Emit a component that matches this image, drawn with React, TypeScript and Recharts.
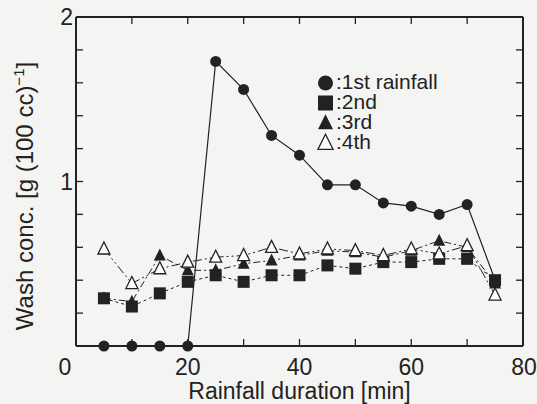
import { LineChart, Line, XAxis, YAxis, Legend, Label } from "recharts";

// rainfall duration [min]
const durations = [5, 10, 15, 20, 25, 30, 35, 40, 45, 50, 55, 60, 65, 70, 75];

// wash concentration [g (100 cc)^-1]
const firstRain = [0, 0, 0, 0, 1.73, 1.56, 1.28, 1.16, 0.98, 0.98, 0.87, 0.85, 0.8, 0.86, 0.4];
const secondRain = [0.29, 0.24, 0.32, 0.39, 0.43, 0.39, 0.43, 0.43, 0.49, 0.47, 0.51, 0.51, 0.53, 0.53, 0.4];
const thirdRain = [0.29, 0.27, 0.55, 0.46, 0.46, 0.5, 0.52, 0.55, 0.58, 0.57, 0.54, 0.58, 0.64, 0.6, 0.38];
const fourthRain = [0.59, 0.38, 0.47, 0.51, 0.54, 0.55, 0.6, 0.56, 0.59, 0.58, 0.55, 0.59, 0.56, 0.61, 0.31];

const seriesLabels = ["1st rainfall", "2nd", "3rd", "4th"];

const xLabelTicks = [0, 20, 40, 60, 80];
const xMinorTicks = [10, 20, 30, 40, 50, 60, 70];
const yLabelTicks = [1, 2];
const yMinorTicks = [0.2, 0.4, 0.6, 0.8, 1.0, 1.2, 1.4, 1.6, 1.8];

const INK = "#222";
const BG = "#f4f4f2";
const FONT = '"Liberation Sans", Arial, Helvetica, sans-serif';

const chartData = durations.map((t, i) => ({
  t,
  first: firstRain[i],
  second: secondRain[i],
  third: thirdRain[i],
  fourth: fourthRain[i],
}));

function marker(kind: string, cx: number, cy: number, s: number) {
  if (kind === "circle") return <circle cx={cx} cy={cy} r={s / 2} fill={INK} />;
  if (kind === "square")
    return <rect x={cx - s / 2} y={cy - s / 2} width={s} height={s} fill={INK} />;
  const pts = `${cx},${cy - s * 0.58} ${cx - s / 2},${cy + s * 0.42} ${cx + s / 2},${cy + s * 0.42}`;
  if (kind === "triangle") return <polygon points={pts} fill={INK} />;
  return <polygon points={pts} fill="#fff" stroke={INK} strokeWidth={1.3} />;
}

const makeDot = (kind: string, size: number) => (props: any) => {
  const { cx, cy, index } = props;
  if (cx == null || cy == null) return <g key={`${kind}-${index}`} />;
  return <g key={`${kind}-${index}`}>{marker(kind, cx, cy, size)}</g>;
};

const legendKinds = ["circle", "square", "triangle", "open"];

const LegendBox = () => (
  <div style={{ fontFamily: FONT, fontSize: 21, color: INK, lineHeight: "20px" }}>
    {seriesLabels.map((label, i) => (
      <div key={label} style={{ display: "flex", alignItems: "center", height: 20 }}>
        <svg width={17} height={19}>
          {marker(legendKinds[i], 8.5, 10, 15)}
        </svg>
        <span style={{ marginLeft: 2 }}>:{label}</span>
      </div>
    ))}
  </div>
);

const XTick = ({ x, y, payload }: any) => {
  const shift = payload.value === 0 ? -11 : payload.value === 80 ? 1 : 0;
  return (
    <text x={x + shift} y={y} dy="0.71em" textAnchor="middle" fontSize={23} fill={INK} fontFamily={FONT}>
      {payload.value}
    </text>
  );
};

const YTitle = () => (
  <text
    x={0}
    y={0}
    transform="translate(33, 196) rotate(-90)"
    textAnchor="middle"
    fontSize={24}
    fill={INK}
    fontFamily={FONT}
  >
    Wash conc. [g (100 cc)
    <tspan dy={-9} fontSize={15}>−1</tspan>
    <tspan dy={9}>]</tspan>
  </text>
);

const minorTickLine = { stroke: INK, strokeWidth: 1.3 };
const frameLine = { stroke: INK, strokeWidth: 2 };
const noLabel = () => "";

export default function App() {
  return (
    <div style={{ position: "absolute", left: 0, top: 0, width: 537, height: 404, background: BG }}>
      <LineChart width={537} height={404} data={chartData} margin={{ top: 17, right: 14, left: 0, bottom: 0 }}>
        <XAxis
          dataKey="t"
          type="number"
          domain={[0, 80]}
          ticks={xLabelTicks}
          height={58}
          tickLine={false}
          tickSize={0}
          tickMargin={13}
          tick={<XTick />}
          axisLine={frameLine}
        >
          <Label value="Rainfall duration [min]" position="insideBottom" offset={5} fontSize={23} fill={INK} fontFamily={FONT} />
        </XAxis>
        <YAxis
          type="number"
          domain={[0, 2]}
          ticks={yLabelTicks}
          width={76}
          tickLine={false}
          tickSize={0}
          tickMargin={3}
          tick={{ fontSize: 23, fill: INK, fontFamily: FONT }}
          axisLine={frameLine}
        >
          <Label content={<YTitle />} />
        </YAxis>

        {/* inward minor ticks and the frame */}
        <XAxis xAxisId="bottomTicks" dataKey="t" orientation="bottom" mirror allowDataOverflow type="number" domain={[0, 80]} ticks={xMinorTicks} tickFormatter={noLabel} tickSize={7} tickLine={minorTickLine} axisLine={false} />
        <XAxis xAxisId="topTicks" dataKey="t" orientation="top" mirror allowDataOverflow type="number" domain={[0, 80]} ticks={xMinorTicks} tickFormatter={noLabel} tickSize={7} tickLine={minorTickLine} axisLine={frameLine} />
        <YAxis yAxisId="leftTicks" orientation="left" mirror allowDataOverflow type="number" domain={[0, 2]} ticks={yMinorTicks} tickFormatter={noLabel} tickSize={7} tickLine={minorTickLine} axisLine={false} />
        <YAxis yAxisId="rightTicks" orientation="right" mirror allowDataOverflow type="number" domain={[0, 2]} ticks={yMinorTicks} tickFormatter={noLabel} tickSize={7} tickLine={minorTickLine} axisLine={frameLine} />

        <Legend
          layout="vertical"
          align="center"
          verticalAlign="middle"
          content={<LegendBox />}
          wrapperStyle={{ left: 317, top: 72, width: 170, height: 82 }}
        />

        {/* invisible carriers so the tick-only axes get a scale */}
        <Line xAxisId="bottomTicks" yAxisId="leftTicks" dataKey="first" stroke="none" dot={false} activeDot={false} legendType="none" isAnimationActive={false} />
        <Line xAxisId="topTicks" yAxisId="rightTicks" dataKey="first" stroke="none" dot={false} activeDot={false} legendType="none" isAnimationActive={false} />

        <Line dataKey="first" name={seriesLabels[0]} stroke={INK} strokeWidth={1.2} dot={makeDot("circle", 11)} activeDot={false} isAnimationActive={false} />
        <Line dataKey="second" name={seriesLabels[1]} stroke={INK} strokeWidth={1} strokeDasharray="3 3" dot={makeDot("square", 12)} activeDot={false} isAnimationActive={false} />
        <Line dataKey="third" name={seriesLabels[2]} stroke={INK} strokeWidth={1} strokeDasharray="7 3 2 3" dot={makeDot("triangle", 12)} activeDot={false} isAnimationActive={false} />
        <Line dataKey="fourth" name={seriesLabels[3]} stroke={INK} strokeWidth={1} strokeDasharray="9 3 2 3 2 3" dot={makeDot("open", 12)} activeDot={false} isAnimationActive={false} />
      </LineChart>
    </div>
  );
}
